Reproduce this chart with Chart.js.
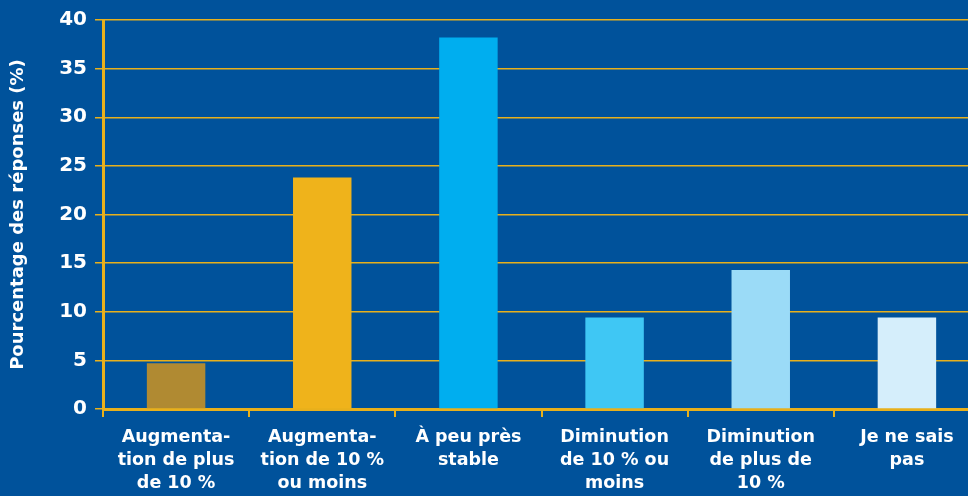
<!DOCTYPE html>
<html>
<head>
<meta charset="utf-8">
<script src="https://cdn.jsdelivr.net/npm/chart.js@4"></script>
<style>
  html, body { margin: 0; padding: 0; background: #00529b; overflow: hidden; }
  #wrap { width: 980px; height: 496px; }
</style>
</head>
<body>
<div id="wrap"><canvas id="chart"></canvas></div>
<script>
// categories (multi-line labels) and values (%)
const categories = [
  ['Augmenta-', 'tion de plus', 'de 10 %'],
  ['Augmenta-', 'tion de 10 %', 'ou moins'],
  ['À peu près', 'stable'],
  ['Diminution', 'de 10 % ou', 'moins'],
  ['Diminution', 'de plus de', '10 %'],
  ['Je ne sais', 'pas']
];
const values = [4.7, 23.8, 38.2, 9.4, 14.3, 9.4];
const barColors = ['#b08a32', '#efb31b', '#00aeef', '#3fc7f4', '#9bdbf7', '#d5eefb'];
const yTicks = [0, 5, 10, 15, 20, 25, 30, 35, 40];

const gold = '#e8b01c';

const bg = {
  id: 'bg',
  beforeDraw(chart) {
    const c = chart.ctx;
    c.save();
    c.fillStyle = '#00529b';
    c.fillRect(0, 0, chart.width, chart.height);
    c.restore();
  }
};

new Chart(document.getElementById('chart'), {
  type: 'bar',
  data: {
    labels: categories,
    datasets: [{
      data: values,
      backgroundColor: barColors,
      borderWidth: 0,
      barPercentage: 0.8,
      categoryPercentage: 0.5
    }]
  },
  options: {
    responsive: true,
    maintainAspectRatio: false,
    animation: false,
    layout: { padding: { top: 10, right: 0, bottom: 0, left: 0 } },
    plugins: { legend: { display: false }, tooltip: { enabled: false } },
    scales: {
      x: {
        afterFit(axis) { axis.height = 87; },
        grid: {
          offset: true,
          drawOnChartArea: false,
          color: gold,
          lineWidth: 2,
          tickLength: 8
        },
        border: { color: gold, width: 3 },
        ticks: {
          color: '#ffffff',
          maxRotation: 0,
          autoSkip: false,
          padding: 9,
          font: { family: 'DejaVu Sans', weight: 'bold', size: 17.5, lineHeight: 1.32 }
        }
      },
      y: {
        min: 0,
        max: 40,
        afterBuildTicks(axis) { axis.ticks = yTicks.map(v => ({ value: v })); },
        afterFit(axis) { axis.width = 103; },
        grid: {
          color: gold,
          lineWidth: 1.5,
          tickLength: 8
        },
        border: { color: gold, width: 3 },
        ticks: {
          color: '#ffffff',
          padding: 8,
          font: { family: 'DejaVu Sans', weight: 'bold', size: 20 }
        },
        title: {
          display: true,
          text: 'Pourcentage des réponses (%)',
          color: '#ffffff',
          padding: { top: 8, bottom: 0 },
          font: { family: 'DejaVu Sans', weight: 'bold', size: 18 }
        }
      }
    }
  },
  plugins: [bg]
});
</script>
</body>
</html>
